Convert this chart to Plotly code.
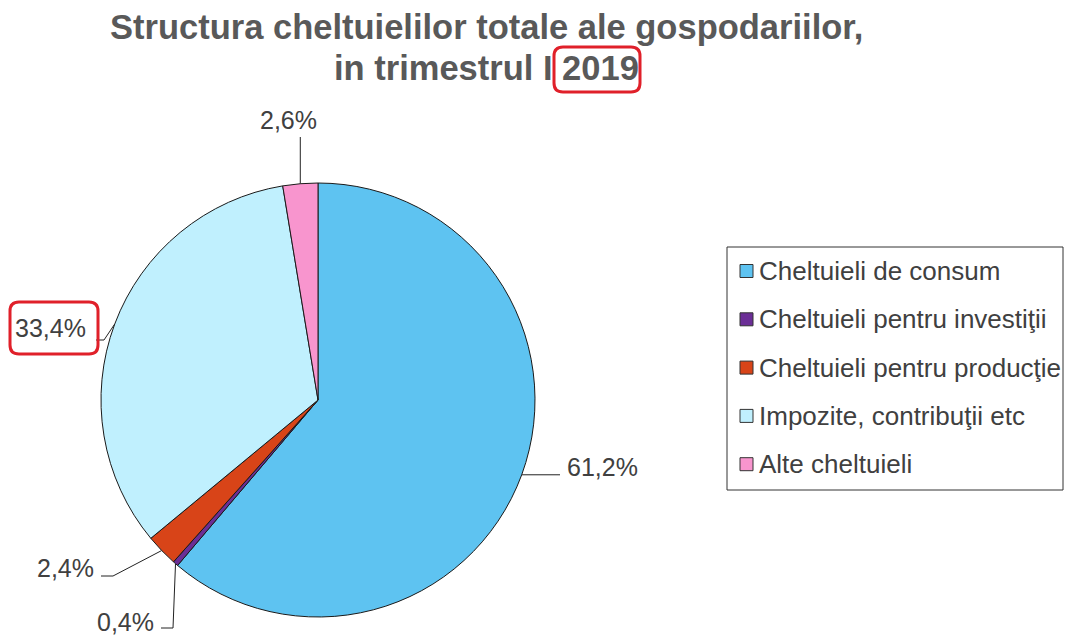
import math
import plotly.graph_objects as go

W, H = 1080, 642

labels = ["Cheltuieli de consum", "Cheltuieli pentru investiţii", "Cheltuieli pentru producţie",
          "Impozite, contribuţii etc", "Alte cheltuieli"]
values = [61.2, 0.4, 2.4, 33.4, 2.6]
value_text = ["61,2%", "0,4%", "2,4%", "33,4%", "2,6%"]
colors = ["#5EC3F1", "#6B2E96", "#D84418", "#C0F0FE", "#F895CE"]

title_lines = ["Structura cheltuielilor totale ale gospodariilor,", "in trimestrul I 2019"]

# the page body adds an 8px margin, so target coordinates are shifted back by it
OFF = 8

# pie geometry in pixels (screen coords)
cx, cy, r = 318, 400, 217

# leader line layout per slice: elbow points (px) and label anchor
label_layout = [
    dict(path=[(560, None)], text=(565, 467), anchor="left"),
    dict(path=[(173, 628), (161, 628)], text=(156, 622), anchor="right"),
    dict(path=[(113, 576), (101, 576)], text=(96, 568), anchor="right"),
    dict(path=[(104, 340), (96, 340)], text=(88, 328), anchor="right"),
    dict(path=[(None, 137)], text=(288, 120), anchor="center"),
]


def px(x):
    return (x - OFF) / W


def py(y):
    return 1 - (y - OFF) / H


fig = go.Figure()
fig.add_trace(go.Pie(
    labels=labels, values=values, sort=False, direction="clockwise", rotation=0,
    marker=dict(colors=colors, line=dict(color="#1a1a1a", width=1)),
    textinfo="none", hoverinfo="label+percent", showlegend=False,
    domain=dict(x=[px(cx - r), px(cx + r)], y=[py(cy + r), py(cy - r)]),
))

shapes = []
annotations = []
font_lbl = dict(size=25, color="#404040", family="Liberation Sans, Arial")

total = sum(values)
start = 0.0
for i, v in enumerate(values):
    mid = start + v / total * 180.0
    start += v / total * 360.0
    a = math.radians(mid)
    ex, ey = cx + r * math.sin(a), cy - r * math.cos(a)
    pts = [(ex, ey)]
    for (x, y) in label_layout[i]["path"]:
        pts.append((ex if x is None else x, ey if y is None else y))
    path = "M " + " L ".join(f"{px(x)},{py(y)}" for x, y in pts)
    shapes.append(dict(type="path", path=path, xref="paper", yref="paper",
                       line=dict(color="#222222", width=1)))
    tx, ty = label_layout[i]["text"]
    annotations.append(dict(x=px(tx), y=py(ty), xref="paper", yref="paper", text=value_text[i],
                            showarrow=False, xanchor=label_layout[i]["anchor"], yanchor="middle",
                            font=font_lbl))

# title
for t, ty in zip(title_lines, [27, 68]):
    annotations.append(dict(x=px(486), y=py(ty), xref="paper", yref="paper", text="<b>" + t + "</b>",
                            showarrow=False, xanchor="center", yanchor="middle",
                            font=dict(size=34.5, color="#595959", family="Liberation Sans, Arial")))

# legend drawn by hand so the row spacing matches
lx0, ly0, lx1, ly1 = 727, 247, 1063, 490
shapes.append(dict(type="rect", xref="paper", yref="paper", x0=px(lx0), x1=px(lx1), y0=py(ly1), y1=py(ly0),
                   line=dict(color="#333333", width=1), fillcolor="white"))
for i, lab in enumerate(labels):
    yc = 271 + i * 48.3
    shapes.append(dict(type="rect", xref="paper", yref="paper", x0=px(740), x1=px(753),
                       y0=py(yc + 6.5), y1=py(yc - 6.5), fillcolor=colors[i],
                       line=dict(color="#333333", width=1)))
    annotations.append(dict(x=px(757), y=py(yc), xref="paper", yref="paper", text=lab, showarrow=False,
                            xanchor="left", yanchor="middle",
                            font=dict(size=26, color="#404040", family="Liberation Sans, Arial")))


# red highlight boxes
def rounded(x0, y0, x1, y1, rad):
    s = f"M {px(x0 + rad)},{py(y0)} L {px(x1 - rad)},{py(y0)} Q {px(x1)},{py(y0)} {px(x1)},{py(y0 + rad)}"
    s += f" L {px(x1)},{py(y1 - rad)} Q {px(x1)},{py(y1)} {px(x1 - rad)},{py(y1)}"
    s += f" L {px(x0 + rad)},{py(y1)} Q {px(x0)},{py(y1)} {px(x0)},{py(y1 - rad)}"
    s += f" L {px(x0)},{py(y0 + rad)} Q {px(x0)},{py(y0)} {px(x0 + rad)},{py(y0)} Z"
    return s


for box in [(554, 47, 640, 92), (10, 302, 98, 354)]:
    shapes.append(dict(type="path", path=rounded(*box, 9), xref="paper", yref="paper",
                       line=dict(color="#E0202A", width=3)))

fig.update_layout(
    width=W, height=H, margin=dict(l=0, r=0, t=0, b=0),
    paper_bgcolor="white", plot_bgcolor="white",
    shapes=shapes, annotations=annotations, showlegend=False,
)

fig.write_html("out.html")
